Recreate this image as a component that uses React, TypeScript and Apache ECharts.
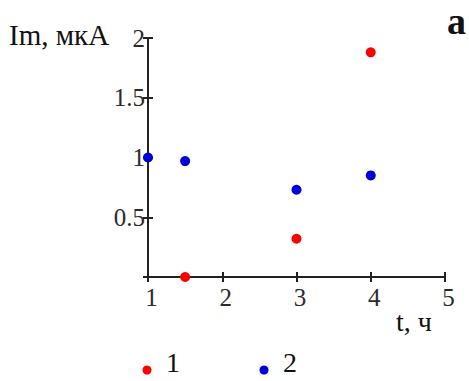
import React, { useEffect, useRef } from "react";
import * as echarts from "echarts";

// t, hours
const xTicks = [1, 2, 3, 4, 5];
const yTicks = [0, 0.5, 1, 1.5, 2];
// series 1 (red) and series 2 (blue): [t, Im]
const series1: [number, number][] = [
  [1.5, 0],
  [3, 0.32],
  [4, 1.88],
];
const series2: [number, number][] = [
  [1, 1.0],
  [1.5, 0.97],
  [3, 0.73],
  [4, 0.85],
];
const seriesNames = ["1", "2"];
const seriesColors = ["#ff0000", "#0000d8"];
// horizontal position of each legend entry
const legendX = [147, 264];

const SERIF = "Liberation Serif";

export default function App() {
  const ref = useRef<HTMLDivElement>(null);
  useEffect(() => {
    if (!ref.current) return;
    const chart = echarts.init(ref.current, null, { renderer: "svg" });
    const axisLine = { show: true, onZero: false, lineStyle: { color: "#222", width: 2 } };
    const tick = { color: "#222", width: 2 };
    const labelStyle = { color: "#2a2a2a", fontFamily: SERIF, fontSize: 25 };

    // legend entries: a dot followed by the series name
    const legendItems = seriesNames.flatMap((name, i) => [
      {
        type: "circle",
        shape: { cx: legendX[i], cy: 370, r: 4.5 },
        style: { fill: seriesColors[i] },
      },
      {
        type: "text",
        left: legendX[i] + 19,
        top: 348,
        style: { text: name, fill: "#111", fontFamily: SERIF, fontSize: 28 },
      },
    ]);

    chart.setOption({
      animation: false,
      backgroundColor: "#ffffff",
      grid: { left: 148, right: 24, top: 38, bottom: 104 },
      xAxis: [
        {
          type: "value",
          min: xTicks[0],
          max: xTicks[xTicks.length - 1],
          interval: 1,
          position: "bottom",
          axisLine,
          axisTick: { show: true, length: 5, lineStyle: tick },
          axisLabel: { ...labelStyle, margin: 8, padding: [0, 0, 0, 7] },
          splitLine: { show: false },
        },
        {
          type: "value",
          min: xTicks[0],
          max: xTicks[xTicks.length - 1],
          interval: 1,
          position: "bottom",
          axisLine: { show: false },
          axisTick: { show: true, inside: true, length: 5, lineStyle: tick },
          axisLabel: { show: false },
          splitLine: { show: false },
        },
      ],
      yAxis: [
        {
          type: "value",
          min: yTicks[0],
          max: yTicks[yTicks.length - 1],
          interval: 0.5,
          position: "left",
          axisLine,
          axisTick: { show: true, length: 5, lineStyle: tick },
          axisLabel: {
            ...labelStyle,
            margin: 3,
            padding: [3, 0, 0, 0],
            formatter: (v: number) => (v === 0 ? "" : String(v)),
          },
          splitLine: { show: false },
        },
        {
          type: "value",
          min: yTicks[0],
          max: yTicks[yTicks.length - 1],
          interval: 0.5,
          position: "left",
          axisLine: { show: false },
          axisTick: { show: true, inside: true, length: 5, lineStyle: tick },
          axisLabel: { show: false },
          splitLine: { show: false },
        },
      ],
      series: [
        {
          name: seriesNames[0],
          type: "scatter",
          data: series1,
          symbolSize: 10,
          clip: false,
          itemStyle: { color: seriesColors[0], opacity: 1 },
        },
        {
          name: seriesNames[1],
          type: "scatter",
          data: series2,
          symbolSize: 10,
          clip: false,
          itemStyle: { color: seriesColors[1], opacity: 1 },
        },
      ],
      graphic: [
        {
          type: "text",
          left: 9,
          top: 20,
          style: { text: "Im, мкА", fill: "#111", fontFamily: SERIF, fontSize: 29 },
        },
        {
          type: "text",
          left: 396,
          top: 307,
          style: { text: "t, ч", fill: "#111", fontFamily: SERIF, fontSize: 28 },
        },
        {
          type: "text",
          left: 447,
          top: 2,
          style: { text: "a", fill: "#111", fontFamily: SERIF, fontSize: 38, fontWeight: "bold" },
        },
        ...legendItems,
      ],
    });
    return () => chart.dispose();
  }, []);
  return (
    <div
      ref={ref}
      style={{ position: "fixed", left: 0, top: 0, width: 469, height: 381 }}
    />
  );
}
